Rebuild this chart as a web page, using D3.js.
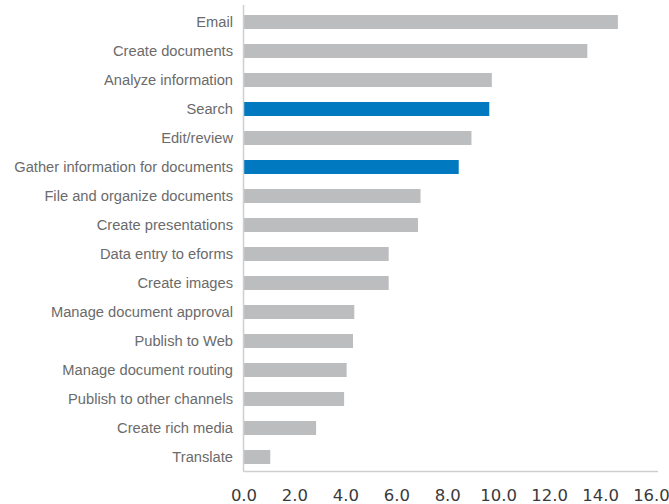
<!DOCTYPE html>
<html>
<head>
<meta charset="utf-8">
<script src="https://cdn.jsdelivr.net/npm/d3@7"></script>
<style>
  body { margin: 0; background: #fff; }
</style>
</head>
<body>
<script>
// task names, top to bottom
var tasks = ["Email", "Create documents", "Analyze information", "Search", "Edit/review",
  "Gather information for documents", "File and organize documents", "Create presentations",
  "Data entry to eforms", "Create images", "Manage document approval", "Publish to Web",
  "Manage document routing", "Publish to other channels", "Create rich media", "Translate"];

// hours per week
var hours = [14.7, 13.5, 9.75, 9.65, 8.95, 8.45, 6.95, 6.85, 5.7, 5.7, 4.35, 4.3, 4.05, 3.95, 2.85, 1.05];

// which ones are shown in blue
var highlighted = ["Search", "Gather information for documents"];

var xTicks = [0, 2, 4, 6, 8, 10, 12, 14, 16];

var W = 669, H = 504;
var left = 243.5, right = 651;

var svg = d3.select("body").append("svg")
  .attr("width", W)
  .attr("height", H);

var x = d3.scaleLinear().domain([0, 16]).range([left, right]);
var y = d3.scaleBand().domain(tasks).range([0, 479]).padding(15 / 29);

var axisY = 471.5;

// bars
svg.selectAll("rect.bar")
  .data(tasks)
  .enter()
  .append("rect")
  .attr("class", "bar")
  .attr("x", x(0) + 0.5)
  .attr("y", function (d) { return y(d); })
  .attr("width", function (d, i) { return x(hours[i]) - x(0) - 0.5; })
  .attr("height", y.bandwidth())
  .style("fill", function (d) { return highlighted.indexOf(d) >= 0 ? "#0079c1" : "#bcbdbf"; });

// axis lines
svg.append("line")
  .attr("x1", left).attr("x2", left)
  .attr("y1", 5).attr("y2", axisY)
  .style("stroke", "#cfcfcf").style("stroke-width", 1.5);
svg.append("line")
  .attr("x1", left).attr("x2", 658)
  .attr("y1", axisY).attr("y2", axisY)
  .style("stroke", "#cfcfcf").style("stroke-width", 1.5);

// category labels
svg.selectAll("text.cat")
  .data(tasks)
  .enter()
  .append("text")
  .attr("class", "cat")
  .attr("x", 233)
  .attr("y", function (d) { return y(d) + y.bandwidth() / 2; })
  .attr("dy", "0.35em")
  .attr("text-anchor", "end")
  .style("font-family", "'Liberation Sans', Arial, sans-serif")
  .style("font-size", "14.7px")
  .style("fill", "#6b6b6b")
  .text(function (d) { return d; });

// x tick labels
var xAxis = d3.axisBottom(x)
  .tickValues(xTicks)
  .tickSize(0)
  .tickPadding(0)
  .tickFormat(d3.format(".1f"));

var gx = svg.append("g")
  .attr("transform", "translate(0," + 489 + ")")
  .call(xAxis);
gx.select(".domain").remove();
gx.selectAll("text")
  .style("font-family", "'DejaVu Sans', sans-serif")
  .style("font-size", "16.5px")
  .style("fill", "#3a3a3a");
</script>
</body>
</html>
